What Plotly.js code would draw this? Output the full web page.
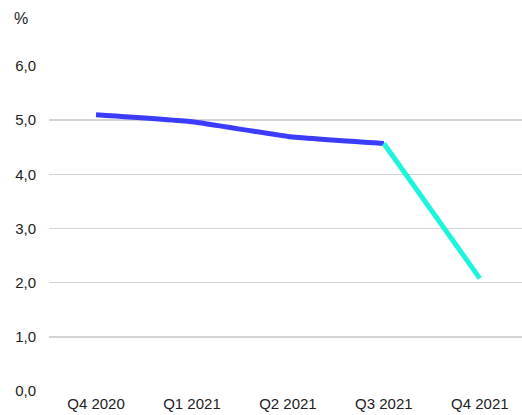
<!DOCTYPE html>
<html>
<head>
<meta charset="utf-8">
<script src="https://cdn.plot.ly/plotly-3.0.1.min.js"></script>
<style>html,body{margin:0;padding:0;background:#fff;}#chart{width:522px;height:415px;}</style>
</head>
<body>
<div id="chart"></div>
<script>
const categories = ["Q4 2020", "Q1 2021", "Q2 2021", "Q3 2021", "Q4 2021"];
const actualValues = [5.1, 4.97, 4.7, 4.57, null];
const latestValues = [null, null, null, 4.57, 2.08];
const yTicks = [0, 1, 2, 3, 4, 5, 6];

const traces = [
  {x: categories, y: actualValues, type: "scatter", mode: "lines",
   line: {color: "#3c3cff", width: 5, shape: "spline", smoothing: 0.4}, hoverinfo: "none", connectgaps: false},
  {x: categories, y: latestValues, type: "scatter", mode: "lines",
   line: {color: "#1ef5dc", width: 5}, hoverinfo: "none", connectgaps: false}
];

const layout = {
  width: 522, height: 415,
  margin: {l: 49, r: 0, t: 66, b: 24, pad: 0},
  paper_bgcolor: "#fff", plot_bgcolor: "#fff",
  showlegend: false,
  separators: ",.",
  font: {family: "Liberation Sans, Arial, sans-serif", size: 15, color: "#222"},
  xaxis: {type: "category", range: [-0.49, 4.44], showgrid: false, zeroline: false,
          showline: false, ticks: "", tickfont: {size: 15, color: "#222"}, ticklabelstandoff: 2, fixedrange: true},
  yaxis: {range: [0, 6], tickvals: yTicks, tickformat: ".1f", showgrid: true, gridcolor: "#d4d4d4",
          gridwidth: 1.6, zeroline: false, showline: false, ticks: "", ticklabelstandoff: 12,
          tickfont: {size: 15, color: "#222"}, fixedrange: true},
  annotations: [{text: "%", xref: "paper", yref: "paper", x: -0.06, y: 1.147, xanchor: "center", yanchor: "middle",
                 showarrow: false, font: {size: 16, color: "#222"}}]
};

Plotly.newPlot("chart", traces, layout, {displayModeBar: false, staticPlot: true});
</script>
</body>
</html>
